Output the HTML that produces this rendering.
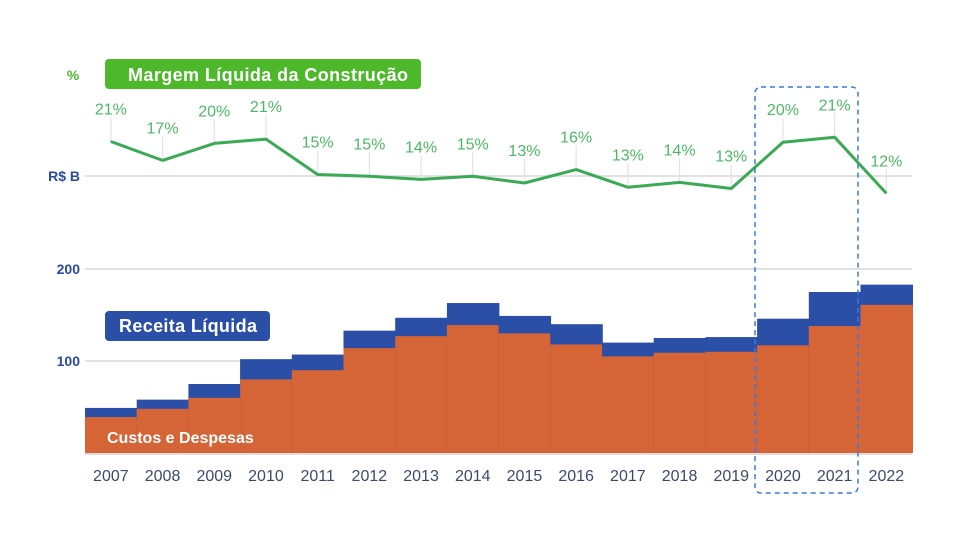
<!DOCTYPE html>
<html><head><meta charset="utf-8">
<style>
body{margin:0;background:#fff;font-family:"Liberation Sans",sans-serif;}
svg{display:block}
</style></head>
<body>
<svg id="c" width="960" height="540" viewBox="0 0 960 540"></svg>
<script>
const years=['2007','2008','2009','2010','2011','2012','2013','2014','2015','2016','2017','2018','2019','2020','2021','2022'];
const receita=[49,58,75,102,107,133,147,163,149,140,120,125,126,146,175,183];
const custos=[39,48,60,80,90,114,127,139,130,118,105,109,110,117,138,161];
const margem=[20.6,17.5,20.3,21.0,15.2,14.9,14.4,14.9,13.8,16.0,13.1,13.9,12.9,20.5,21.3,12.1];
const margemLabels=['21%','17%','20%','21%','15%','15%','14%','15%','13%','16%','13%','14%','13%','20%','21%','12%'];
const yTicks=[100,200];
const NS='http://www.w3.org/2000/svg';
const svg=document.getElementById('c');
function el(t,a){const e=document.createElementNS(NS,t);for(const k in a)e.setAttribute(k,a[k]);svg.appendChild(e);return e;}
const x0=85,step=51.7;
const xc=i=>x0+step*(i+0.5);
const y=v=>453-v*0.92;
const ym=p=>194-(p-12)*6.1;
yTicks.forEach(t=>{
 const g=el('line',{x1:85,x2:912,y1:y(t),y2:y(t),stroke:'#d9d9d9','stroke-width':1.5});
 
 
 const tx=el('text',{x:80,y:y(t)+5,'text-anchor':'end','font-size':14,'font-weight':'bold',fill:'#2a4aa0'});
 tx.textContent=t;
 
 
});
const rl=el('line',{x1:85,x2:912,y1:176,y2:176,stroke:'#d9d9d9','stroke-width':1.5});


years.forEach((yr,i)=>{
 const bx=x0+step*i;
 const r=el('rect',{x:bx,y:y(receita[i]),width:step+0.8,height:453-y(receita[i]),fill:'#2b4ea6'});
 
 
 const c=el('rect',{x:bx,y:y(custos[i]),width:step+0.8,height:453-y(custos[i]),fill:'#d56536'});
 
 
 const t=el('text',{x:xc(i),y:481,'text-anchor':'middle','font-size':16,fill:'#3b4a6b'});
 t.textContent=yr;
 
 
});
const ax=el('line',{x1:85,x2:912,y1:454,y2:454,stroke:'#bbb','stroke-width':1});


margem.forEach((p,i)=>{
 const py=ym(p);
 const tk=el('line',{x1:xc(i),x2:xc(i),y1:py-24,y2:py,stroke:'#e3e3e3','stroke-width':1.2});
 
 
 const lb=el('text',{x:xc(i),y:py-27,'text-anchor':'middle','font-size':16,fill:'#4cb866'});
 lb.textContent=margemLabels[i];
 
 
});
const pts=margem.map((p,i)=>xc(i).toFixed(1)+','+ym(p).toFixed(1)).join(' ');
const ml=el('polyline',{points:pts,fill:'none',stroke:'#3aaa55','stroke-width':3,'stroke-linejoin':'round'});


const hl=el('rect',{x:755,y:87,width:103,height:406,rx:6,fill:'none',stroke:'#3a78e0','stroke-width':1.5,'stroke-dasharray':'5,4'});


const pc=el('text',{x:73,y:80,'text-anchor':'middle','font-size':14,'font-weight':'bold',fill:'#4cb82a'});
pc.textContent='%';


const rb=el('text',{x:80,y:181,'text-anchor':'end','font-size':14,'font-weight':'bold',fill:'#2a4aa0'});
rb.textContent='R$ B';


const gb=el('rect',{x:105,y:59,width:316,height:30,rx:4,fill:'#4cb82a'});


const gt=el('text',{x:268,y:81,'text-anchor':'middle','font-size':18,'font-weight':'bold',fill:'#fff',textLength:280});
gt.textContent='Margem Líquida da Construção';


const bb=el('rect',{x:105,y:311,width:165,height:30,rx:4,fill:'#2b4ea6'});


const bt=el('text',{x:188,y:332,'text-anchor':'middle','font-size':18,'font-weight':'bold',fill:'#fff',textLength:138});
bt.textContent='Receita Líquida';


const ct=el('text',{x:107,y:443,'font-size':16,'font-weight':'bold',fill:'#fff'});
ct.textContent='Custos e Despesas';


</script>
</body></html>
